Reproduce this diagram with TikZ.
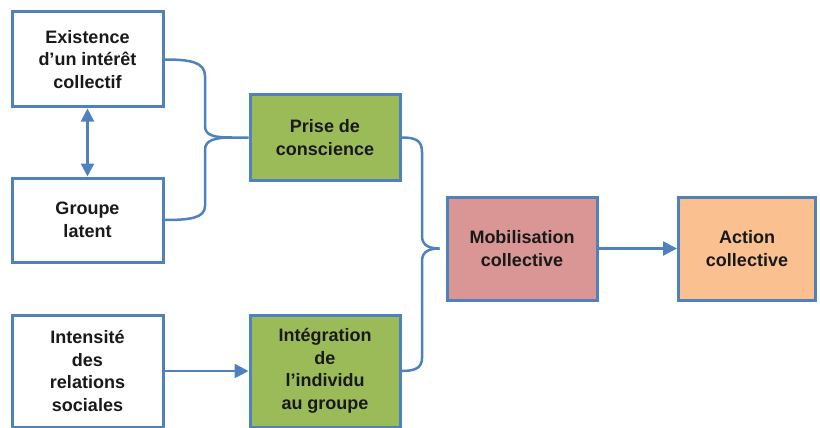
\documentclass[tikz,border=0pt]{standalone}
\usepackage{fontspec}
\setmainfont{Liberation Sans}
\usetikzlibrary{arrows.meta}
\definecolor{bordblue}{HTML}{4F81BD}
\definecolor{boxgreen}{HTML}{9BBB59}
\definecolor{boxpink}{HTML}{D99694}
\definecolor{boxorange}{HTML}{FAC090}
\tikzset{
  box/.style={draw=bordblue, line width=3pt, fill=white, align=center,
    font=\fontsize{18}{22.5}\selectfont\bfseries, text=black!90, inner sep=2pt},
  conn/.style={draw=bordblue, line width=2.5pt},
  arr/.style={conn, -{Triangle[length=14pt,width=14pt]}},
  darr/.style={conn, {Triangle[length=13pt,width=13pt]}-{Triangle[length=13pt,width=13pt]}},
}
\begin{document}
\begin{tikzpicture}[x=1pt,y=-1pt]
\useasboundingbox (0,0) rectangle (820,428);
\node[box, minimum width=151pt, minimum height=95pt] (ex) at (87.5,59.5) {Existence\\d’un intérêt\\collectif};
\node[box, minimum width=151pt, minimum height=84pt] (gr) at (87.5,220) {Groupe\\latent};
\node[box, minimum width=151pt, minimum height=112pt] (in) at (87.5,371) {Intensité\\des\\relations\\sociales};
\node[box, fill=boxgreen, minimum width=150pt, minimum height=85pt] (pr) at (325,137.5) {Prise de\\conscience};
\node[box, fill=boxgreen, minimum width=150pt, minimum height=112pt] (ig) at (325,371) {Intégration\\de\\l’individu\\au groupe};
\node[box, fill=boxpink, minimum width=150pt, minimum height=103pt] (mo) at (522,248.5) {Mobilisation\\collective};
\node[box, fill=boxorange, minimum width=137pt, minimum height=103pt] (ac) at (747,248.5) {Action\\collective};

% brace 1
\draw[conn] (ex.east) .. controls (190,59.5) and (205,62) .. (205,76) -- (205,126)
  .. controls (205,136) and (215,137.5) .. (232,137.5) -- (pr.west);
\draw[conn] (gr.east) .. controls (190,220) and (205,218) .. (205,206) -- (205,150)
  .. controls (205,140) and (215,137.5) .. (232,137.5);
% brace 2
\draw[conn, shorten >=6pt] (pr.east) .. controls (415,137.5) and (422,140) .. (422,152) -- (422,236)
  .. controls (422,246) and (430,248.5) .. (mo.west);
\draw[conn, shorten >=6pt] (ig.east) .. controls (415,371) and (422,368) .. (422,358) -- (422,261)
  .. controls (422,251) and (430,248.5) .. (mo.west);

\draw[darr] (ex.south) -- (gr.north);
\draw[arr] (in.east) -- (ig.west);
\draw[arr] (mo.east) -- (ac.west);
\end{tikzpicture}
\end{document}
